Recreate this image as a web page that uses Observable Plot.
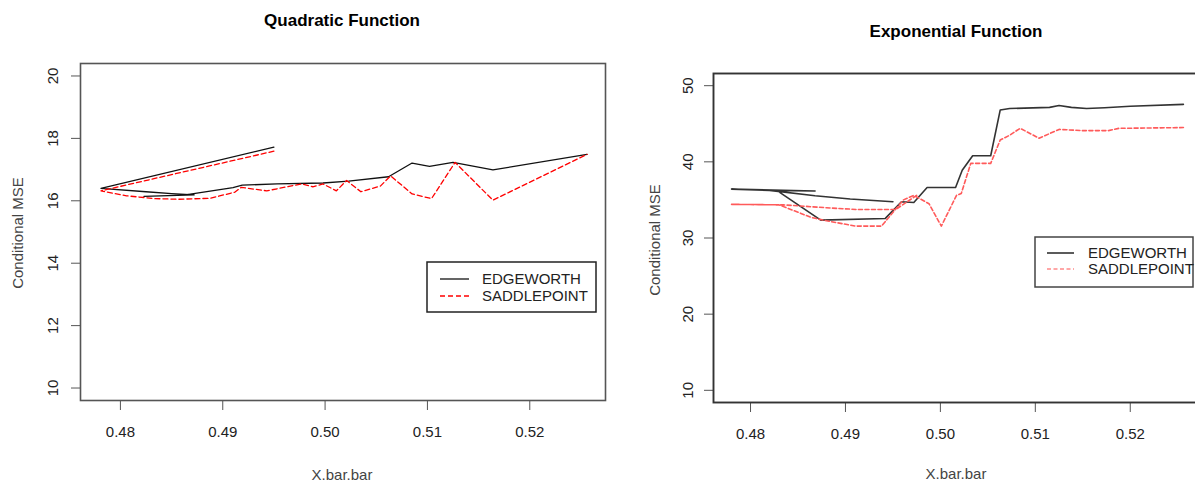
<!DOCTYPE html>
<html>
<head>
<meta charset="utf-8">
<script src="https://cdn.jsdelivr.net/npm/d3@7"></script>
<script src="https://cdn.jsdelivr.net/npm/@observablehq/plot@0.6"></script>
<style>
  html, body { margin: 0; padding: 0; background: #fff; overflow: hidden; }
  #wrap { position: relative; width: 1195px; height: 483px; overflow: hidden; font-family: "Liberation Sans", Arial, sans-serif; }
  .abs { position: absolute; white-space: nowrap; }
  .title { font-weight: bold; font-size: 17px; color: #000; transform: translate(-50%, -50%); }
  .xlab { font-size: 15px; color: #444; transform: translate(-50%, -50%); }
  .ylab { font-size: 15px; color: #444; transform: translate(-50%, -50%) rotate(-90deg); }
</style>
</head>
<body>
<div id="wrap"></div>
<script>
// ---------- data ----------
const titles = ["Quadratic Function", "Exponential Function"];
const xLabel = "X.bar.bar";
const yLabel = "Conditional MSE";
const seriesNames = ["EDGEWORTH", "SADDLEPOINT"];
const xTicks = [0.48, 0.49, 0.50, 0.51, 0.52];
const yTicksQ = [10, 12, 14, 16, 18, 20];
const yTicksE = [10, 20, 30, 40, 50];

// Quadratic function panel
const qEdgeX = [0.4950, 0.4781, 0.4825, 0.4850, 0.4872, 0.4823, 0.4862, 0.4910, 0.4919, 0.4953, 0.4998, 0.5023, 0.5062, 0.5085, 0.5102, 0.5125, 0.5164, 0.5256];
const qEdgeY = [17.72, 16.40, 16.29, 16.23, 16.19, 16.14, 16.18, 16.42, 16.50, 16.54, 16.57, 16.63, 16.77, 17.21, 17.10, 17.23, 16.99, 17.49];
const qSadX = [0.4950, 0.4781, 0.4806, 0.4834, 0.4857, 0.4888, 0.4912, 0.4918, 0.4943, 0.4977, 0.4988, 0.4998, 0.5011, 0.5021, 0.5035, 0.5054, 0.5064, 0.5085, 0.5104, 0.5127, 0.5164, 0.5256];
const qSadY = [17.59, 16.32, 16.16, 16.07, 16.05, 16.08, 16.28, 16.43, 16.32, 16.54, 16.45, 16.54, 16.32, 16.65, 16.29, 16.47, 16.80, 16.22, 16.07, 17.23, 16.02, 17.49];

// Exponential function panel
const eEdgeX = [0.4950, 0.4905, 0.4868, 0.4820, 0.4868, 0.4780, 0.4828, 0.4874, 0.4942, 0.4959, 0.4972, 0.4986, 0.5016, 0.5023, 0.5034, 0.5053, 0.5063, 0.5073, 0.5115, 0.5125, 0.5138, 0.5154, 0.5173, 0.5200, 0.5256];
const eEdgeY = [34.76, 35.12, 35.55, 36.25, 36.18, 36.42, 36.22, 32.35, 32.57, 34.76, 34.67, 36.64, 36.64, 38.90, 40.80, 40.80, 46.80, 47.00, 47.15, 47.40, 47.15, 47.00, 47.10, 47.30, 47.55];
const eSadX = [0.4975, 0.4953, 0.4911, 0.4880, 0.4835, 0.4780, 0.4830, 0.4864, 0.4880, 0.4911, 0.4938, 0.4961, 0.4972, 0.4988, 0.5001, 0.5017, 0.5022, 0.5032, 0.5053, 0.5063, 0.5073, 0.5084, 0.5104, 0.5125, 0.5150, 0.5177, 0.5188, 0.5256];
const eSadY = [35.60, 33.75, 33.75, 33.97, 34.35, 34.42, 34.35, 32.70, 32.26, 31.56, 31.56, 35.00, 35.60, 34.50, 31.56, 35.60, 35.85, 39.80, 39.80, 42.86, 43.50, 44.40, 43.10, 44.26, 44.10, 44.10, 44.40, 44.50];

// ---------- helpers ----------
const font = "'Liberation Sans', Arial, sans-serif";
const zip = (xs, ys) => xs.map((x, i) => ({x, y: ys[i]}));
const wrap = document.getElementById("wrap");

function addDiv(cls, text, left, top) {
  const d = document.createElement("div");
  d.className = "abs " + cls;
  d.textContent = text;
  d.style.left = left + "px";
  d.style.top = top + "px";
  wrap.appendChild(d);
}

function panel(cfg) {
  const svg = Plot.plot({
    width: cfg.width,
    height: 483,
    marginLeft: cfg.ml, marginRight: cfg.mr, marginTop: cfg.mt, marginBottom: cfg.mb,
    style: {fontFamily: font, background: "transparent", overflow: "visible"},
    x: {domain: cfg.xDomain, axis: null},
    y: {domain: cfg.yDomain, axis: null},
    marks: [
      Plot.axisX(xTicks, {tickSize: 10, tickPadding: 16, fontSize: 15, stroke: "#555", fill: "#222", label: null, tickFormat: d3.format(".2f")}),
      Plot.axisY(cfg.yTicks, {tickSize: 9, stroke: "#555", label: null, tickFormat: () => ""}),
      Plot.text(cfg.yTicks, {y: d => d, text: d => String(d), frameAnchor: "left", dx: cfg.ylabDx, rotate: -90,
        fontSize: 15, fill: "#222", textAnchor: "middle", lineAnchor: "middle"}),
      Plot.line(cfg.edge, {x: "x", y: "y", stroke: cfg.edgeColor, strokeWidth: cfg.lw}),
      Plot.line(cfg.sad, {x: "x", y: "y", stroke: cfg.sadColor, strokeWidth: cfg.lw, strokeDasharray: cfg.dash}),
      Plot.frame({stroke: cfg.frameColor, strokeWidth: cfg.frameWidth})
    ]
  });
  svg.style.position = "absolute";
  svg.style.left = cfg.left + "px";
  svg.style.top = "0px";
  wrap.appendChild(svg);
}

function legend(cfg) {
  const ns = "http://www.w3.org/2000/svg";
  const s = document.createElementNS(ns, "svg");
  s.setAttribute("width", cfg.w + 4);
  s.setAttribute("height", cfg.h + 4);
  s.style.position = "absolute";
  s.style.left = (cfg.x - 2) + "px";
  s.style.top = (cfg.y - 2) + "px";
  s.style.overflow = "visible";
  const el = (tag, attrs, txt) => {
    const e = document.createElementNS(ns, tag);
    for (const k in attrs) e.setAttribute(k, attrs[k]);
    if (txt) e.textContent = txt;
    s.appendChild(e);
    return e;
  };
  el("rect", {x: 2, y: 2, width: cfg.w, height: cfg.h, fill: "#fff", stroke: cfg.boxColor, "stroke-width": 1.5});
  const rows = [
    {name: seriesNames[0], color: cfg.edgeColor, dash: null},
    {name: seriesNames[1], color: cfg.sadColor, dash: cfg.dash}
  ];
  rows.forEach((r, i) => {
    const yy = 2 + cfg.rowY[i];
    const a = {x1: 2 + cfg.lx0, x2: 2 + cfg.lx1, y1: yy, y2: yy, stroke: r.color, "stroke-width": cfg.lw};
    if (r.dash) a["stroke-dasharray"] = r.dash;
    el("line", a);
    el("text", {x: 2 + cfg.tx, y: yy, dy: "0.36em", "font-family": font, "font-size": 15, fill: "#222"}, r.name);
  });
  wrap.appendChild(s);
}

// ---------- left panel ----------
panel({
  left: 0, width: 620, ml: 80, mr: 15, mt: 63, mb: 83,
  xDomain: [0.4761, 0.5274], yDomain: [9.6, 20.4], yTicks: yTicksQ, ylabDx: -27,
  edge: zip(qEdgeX, qEdgeY), sad: zip(qSadX, qSadY),
  edgeColor: "#111", sadColor: "#ff0000", lw: 1.3, dash: "5,3",
  frameColor: "#555", frameWidth: 1.6
});
addDiv("title", titles[0], 342, 21);
addDiv("xlab", xLabel, 342, 474);
addDiv("ylab", yLabel, 17, 233);
legend({x: 427, y: 262, w: 169, h: 50, lx0: 13, lx1: 42, tx: 55, rowY: [17, 34],
  edgeColor: "#111", sadColor: "#ff0000", dash: "5,3", lw: 1.3, boxColor: "#222"});

// ---------- right panel ----------
panel({
  left: 620, width: 600, ml: 93, mr: 20, mt: 73, mb: 81,
  xDomain: [0.4761, 0.5274], yDomain: [8.4, 51.6], yTicks: yTicksE, ylabDx: -25,
  edge: zip(eEdgeX, eEdgeY), sad: zip(eSadX, eSadY),
  edgeColor: "#333", sadColor: "#ff5a5a", lw: 1.6, dash: "4,2.5",
  frameColor: "#333", frameWidth: 1.9
});
addDiv("title", titles[1], 956, 32);
addDiv("xlab", xLabel, 956, 473);
addDiv("ylab", yLabel, 654, 240);
legend({x: 1035, y: 237, w: 158, h: 50, lx0: 12, lx1: 39, tx: 53, rowY: [16, 32],
  edgeColor: "#333", sadColor: "#ff8a8a", dash: "4,2.5", lw: 1.6, boxColor: "#444"});
</script>
</body>
</html>
